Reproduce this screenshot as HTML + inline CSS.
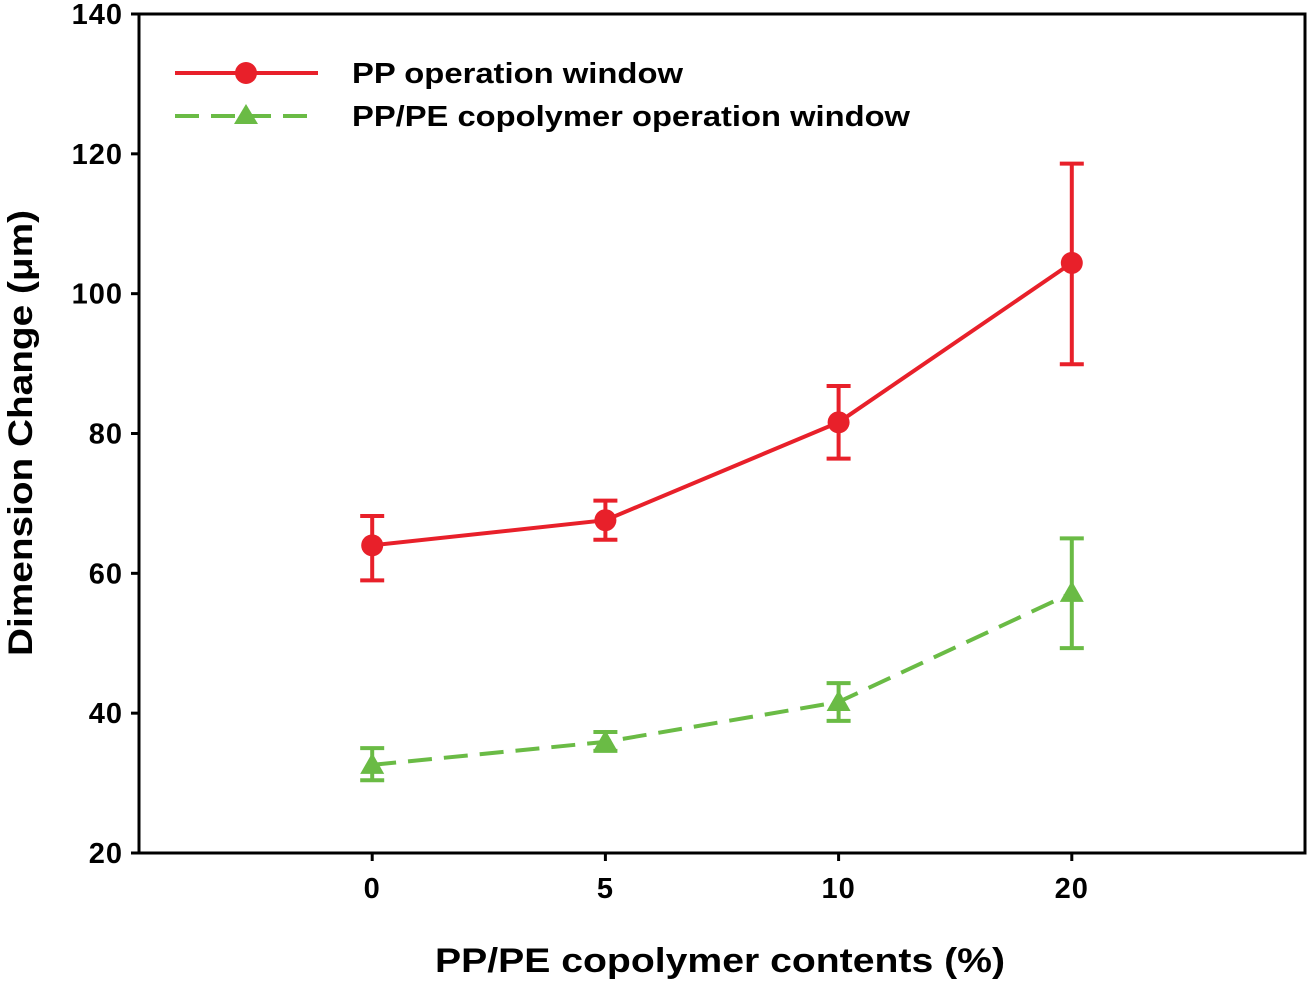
<!DOCTYPE html>
<html><head><meta charset="utf-8"><style>
body{margin:0;background:#fff}
svg{display:block;font-family:"Liberation Sans",Arial,sans-serif;font-weight:bold}
</style></head><body>
<svg width="1307" height="982" viewBox="0 0 1307 982">
<g id="axes"></g><g id="series"></g>
<g>
<line x1="175" y1="73" x2="318" y2="73" stroke="#e8202a" stroke-width="4"/>
<circle cx="246" cy="73" r="11" fill="#e8202a"/>
<text x="352" y="83" font-size="29" fill="#000" textLength="331" lengthAdjust="spacingAndGlyphs">PP operation window</text>
<line x1="175" y1="116" x2="318" y2="116" stroke="#6abb45" stroke-width="4" stroke-dasharray="24,12"/>
<polygon points="246,104 258,124 234,124" fill="#6abb45"/>
<text x="352" y="126" font-size="29" fill="#000" textLength="558" lengthAdjust="spacingAndGlyphs">PP/PE copolymer operation window</text>
</g>
<text x="435" y="972" font-size="34" textLength="570" lengthAdjust="spacingAndGlyphs">PP/PE copolymer contents (%)</text>
<text transform="translate(32,656) rotate(-90)" font-size="34" textLength="446" lengthAdjust="spacingAndGlyphs">Dimension Change (μm)</text>
</svg>
<script>
const categories=["0","5","10","20"];
const ppVals=[64.0,67.6,81.6,104.4];
const ppHi=[68.2,70.4,86.8,118.6];
const ppLo=[59.0,64.8,76.4,89.9];
const peVals=[32.6,35.9,41.6,57.2];
const peHi=[35.0,37.3,44.3,65.0];
const peLo=[30.4,34.6,38.9,49.3];
const yTicks=[20,40,60,80,100,120,140];
const L=139,R=1305,T=14,B=853;
const x=i=>L+(i+1)*(R-L)/(categories.length+1);
const y=v=>B-(v-20)/120*(B-T);
const NS="http://www.w3.org/2000/svg";
function mk(tag,at,par){const e=document.createElementNS(NS,tag);for(const k in at)e.setAttribute(k,at[k]);par.appendChild(e);return e;}
const ax=document.getElementById('axes'),se=document.getElementById('series');
const frame=mk('rect',{x:L,y:T,width:R-L,height:B-T,fill:'none',stroke:'#000','stroke-width':3},ax);


yTicks.forEach(v=>{
 const t=mk('line',{x1:L-8,x2:L,y1:y(v),y2:y(v),stroke:'#000','stroke-width':3},ax);
 
 
 const l=mk('text',{x:L-16,y:y(v)+10,'font-size':29,'text-anchor':'end','letter-spacing':1},ax);l.textContent=v;
 
 
});
categories.forEach((c,i)=>{
 const t=mk('line',{x1:x(i),x2:x(i),y1:B,y2:B+8,stroke:'#000','stroke-width':3},ax);
 
 
 const l=mk('text',{x:x(i),y:B+45,'font-size':29,'text-anchor':'middle','letter-spacing':1},ax);l.textContent=c;
 
 
});
function series(vals,hi,lo,col,dash,marker,name){
 const p=mk('polyline',{points:vals.map((v,i)=>x(i)+','+y(v)).join(' '),fill:'none',stroke:col,'stroke-width':4,'stroke-dasharray':dash},se);
 
 
 vals.forEach((v,i)=>{
  const g=mk('g',{stroke:col,'stroke-width':4},se);
  
  
  mk('line',{x1:x(i),x2:x(i),y1:y(hi[i]),y2:y(lo[i])},g);
  mk('line',{x1:x(i)-12,x2:x(i)+12,y1:y(hi[i]),y2:y(hi[i])},g);
  mk('line',{x1:x(i)-12,x2:x(i)+12,y1:y(lo[i]),y2:y(lo[i])},g);
  let m;
  if(marker==='c')m=mk('circle',{cx:x(i),cy:y(v),r:11,fill:col},se);
  else m=mk('polygon',{points:`${x(i)},${y(v)-12} ${x(i)+12},${y(v)+9} ${x(i)-12},${y(v)+9}`,fill:col},se);
  
  
 });
}
series(ppVals,ppHi,ppLo,'#e8202a','none','c','pp');
series(peVals,peHi,peLo,'#6abb45','24,12','t','pppe');
</script>
</body></html>
